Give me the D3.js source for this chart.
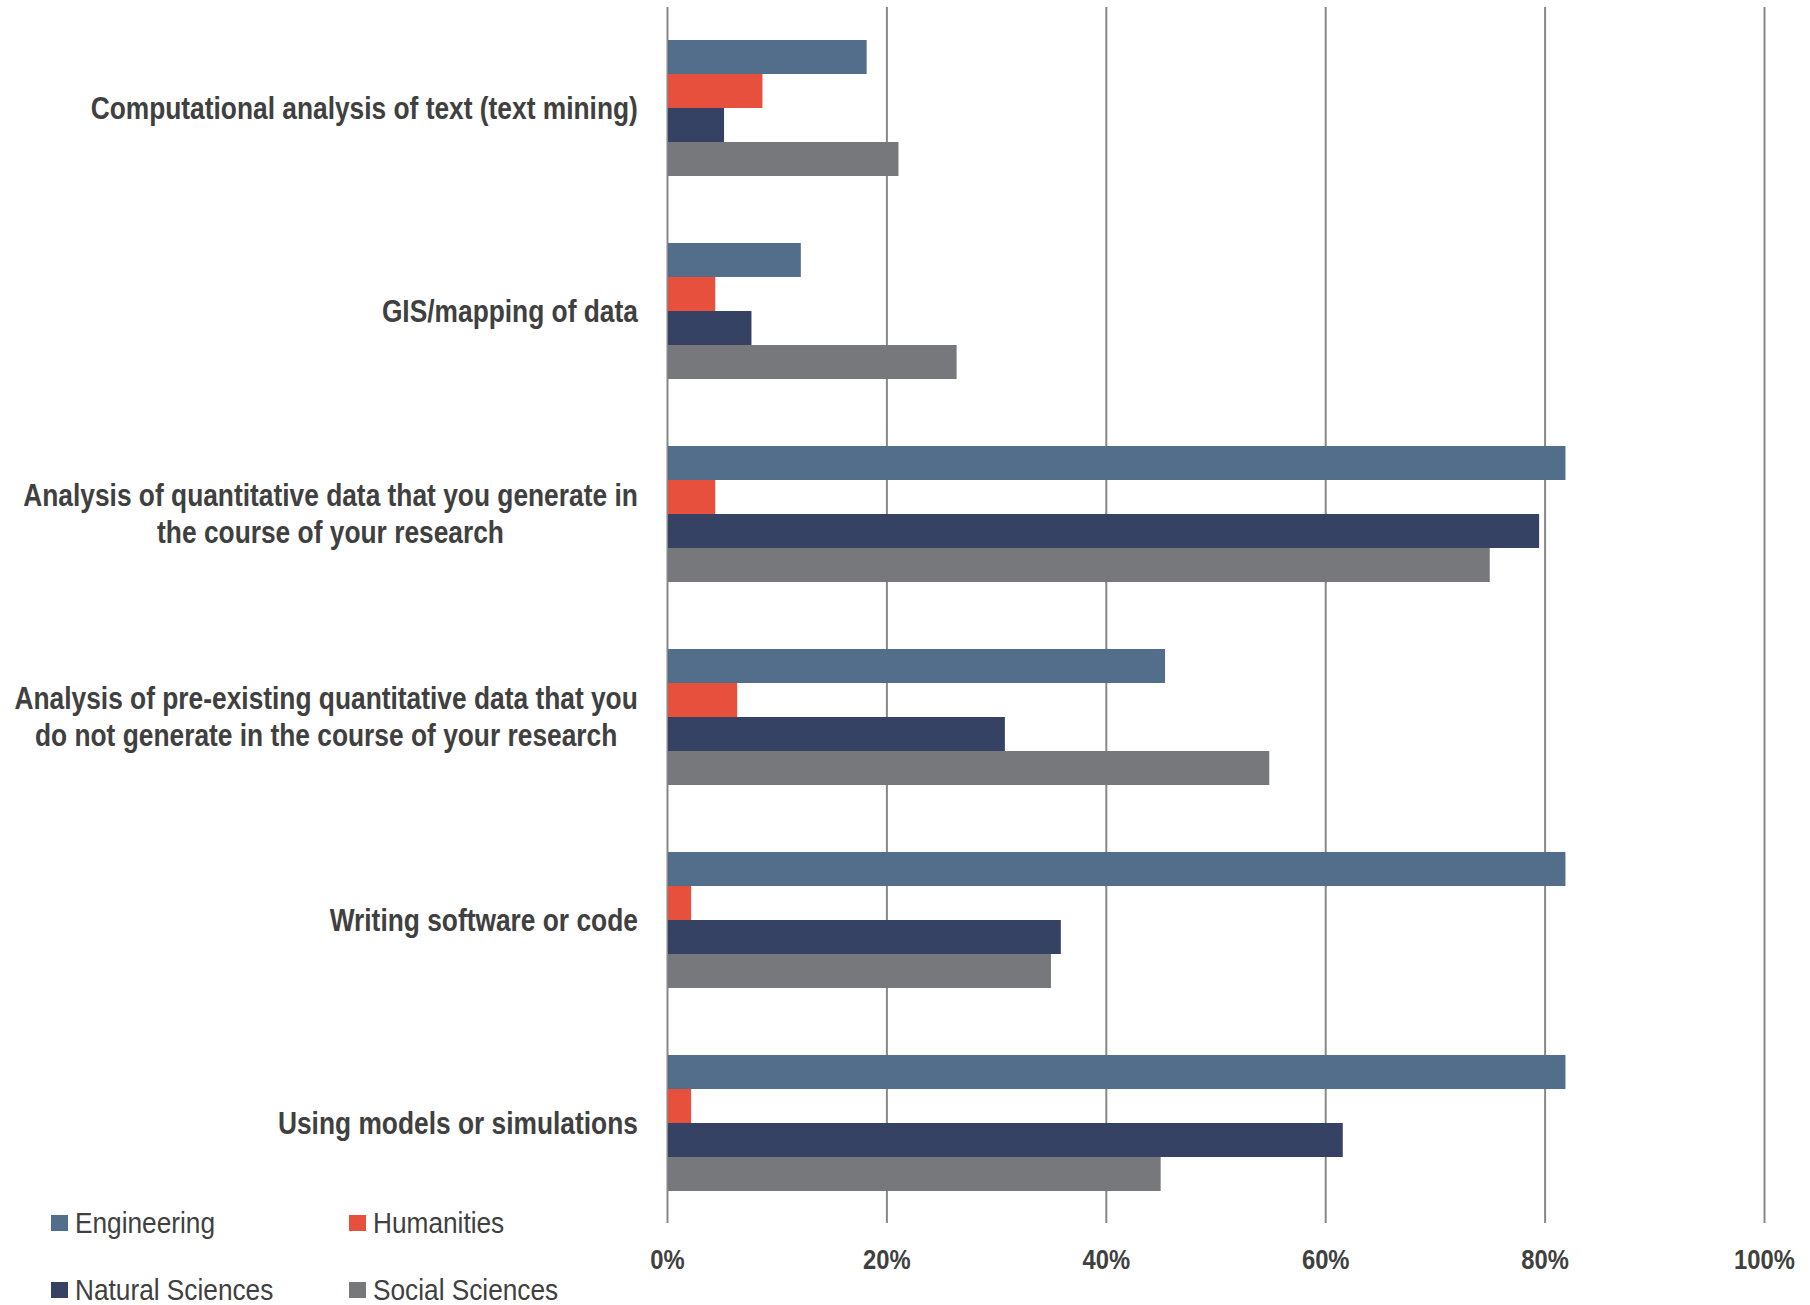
<!DOCTYPE html>
<html>
<head>
<meta charset="utf-8">
<script src="https://cdn.jsdelivr.net/npm/d3@7"></script>
<style>
  body { margin: 0; background: #fff; }
  text { font-family: "Liberation Sans", Arial, sans-serif; fill: #404040; }
  .cat text { font-weight: bold; font-size: 31px; }
  .tick text { font-weight: bold; font-size: 28px; }
  .legend text { font-size: 30px; }
</style>
</head>
<body>
<div id="chart"></div>
<script>
var svgWidth = 1810;
var svgHeight = 1305;

// categories, top to bottom (each as its label lines)
var categories = [
  ["Computational analysis of text (text mining)"],
  ["GIS/mapping of data"],
  ["Analysis of quantitative data that you generate in", "the course of your research"],
  ["Analysis of pre-existing quantitative data that you", "do not generate in the course of your research"],
  ["Writing software or code"],
  ["Using models or simulations"]
];
var seriesNames = ["Engineering", "Humanities", "Natural Sciences", "Social Sciences"];
var seriesColors = ["#536e8a", "#e8503e", "#364264", "#77787c"];

// share of respondents, same order as categories
var engineering     = [0.182, 0.122, 0.819, 0.454, 0.819, 0.819];
var humanities      = [0.087, 0.044, 0.044, 0.064, 0.022, 0.022];
var naturalSciences = [0.052, 0.077, 0.795, 0.308, 0.359, 0.616];
var socialSciences  = [0.211, 0.264, 0.750, 0.549, 0.350, 0.450];

var tickValues = [0, 0.2, 0.4, 0.6, 0.8, 1.0];

var series = [engineering, humanities, naturalSciences, socialSciences];

// no narrow font installed, so squeeze Liberation Sans horizontally
var narrow = 0.85;
var legendNarrow = 0.875;

var svg = d3.select("#chart")
  .append("svg")
  .attr("width", svgWidth)
  .attr("height", svgHeight);

var plotTop = 6.5, plotBottom = 1224.5;

var xScale = d3.scaleLinear()
  .domain([0, 1])
  .range([667, 1764]);

var catIndex = d3.range(categories.length);
var yScale = d3.scaleBand()
  .domain(catIndex)
  .range([plotTop, plotBottom])
  .paddingInner(0.33)
  .paddingOuter(0.165);

var ySub = d3.scaleBand()
  .domain(d3.range(seriesNames.length))
  .range([0, yScale.bandwidth()]);

// gridlines + tick labels
var axis = d3.axisBottom(xScale)
  .tickValues(tickValues)
  .tickFormat(d3.format(".0%"))
  .tickSize(-(1223 - 7))
  .tickPadding(26);

var axisG = svg.append("g")
  .attr("transform", "translate(0, 1223)")
  .call(axis);
axisG.select(".domain").remove();
axisG.selectAll(".tick line")
  .attr("stroke", "#888")
  .attr("stroke-width", 2);
axisG.selectAll(".tick text")
  .attr("fill", "#404040")
  .attr("transform", `scale(${narrow},1)`);

// bars
series.forEach(function(vals, s) {
  svg.append("g")
    .selectAll("rect")
    .data(vals)
    .enter()
    .append("rect")
    .attr("x", xScale(0) + 1)
    .attr("y", (d, i) => yScale(i) + ySub(s))
    .attr("width", d => xScale(d) - xScale(0) - 1)
    .attr("height", ySub.bandwidth())
    .attr("fill", seriesColors[s]);
});

// category labels (multi-line blocks centred on their widest line, right edge at 638)
var lineGap = 37;
categories.forEach(function(lines, i) {
  var g = svg.append("g").attr("class", "cat");
  var cy = yScale(i) + yScale.bandwidth() / 2;
  var texts = lines.map(function(line, j) {
    return g.append("text")
      .attr("data-y", cy + (j - (lines.length - 1) / 2) * lineGap)
      .attr("dy", "0.35em")
      .attr("text-anchor", "middle")
      .text(line);
  });
  var w = d3.max(texts, t => t.node().getComputedTextLength()) * narrow;
  texts.forEach(t => t.attr("transform",
    `translate(${638 - w / 2}, ${t.attr("data-y")}) scale(${narrow},1)`));
});

// legend
var legendPos = [[51, 1222], [349, 1222], [51, 1289], [349, 1289]];
var legend = svg.append("g").attr("class", "legend");
seriesNames.forEach(function(name, s) {
  legend.append("rect")
    .attr("x", legendPos[s][0])
    .attr("y", legendPos[s][1] - 7)
    .attr("width", 17)
    .attr("height", 16)
    .attr("fill", seriesColors[s]);
  legend.append("text")
    .attr("transform", `translate(${legendPos[s][0] + 24}, ${legendPos[s][1]}) scale(${legendNarrow},1)`)
    .attr("dy", "0.35em")
    .text(name);
});
</script>
</body>
</html>
